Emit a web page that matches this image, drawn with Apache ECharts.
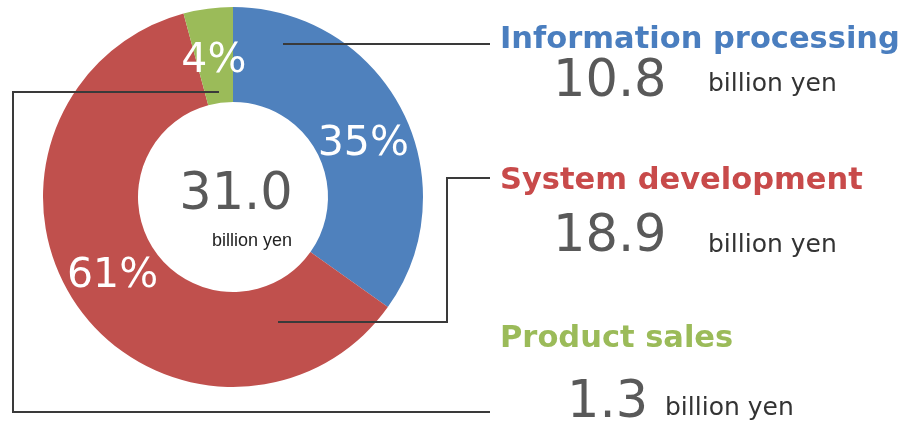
<!DOCTYPE html>
<html>
<head>
<meta charset="utf-8">
<script src="https://cdn.jsdelivr.net/npm/echarts@6/dist/echarts.min.js"></script>
<style>
html,body{margin:0;padding:0;background:#fff;}
#chart{width:904px;height:425px;}
</style>
</head>
<body>
<div id="chart"></div>
<script>
const categories = ['Information processing', 'System development', 'Product sales'];
const values = [10.8, 18.9, 1.3];
const unitLabel = 'billion yen';

const colors = ['#4f81bd', '#c0504d', '#9bbb59'];
const titleColors = ['#4a7ebf', '#c84a4a', '#9bbb59'];
const labelOffsets = [[1, 14], [-1, -4], [0, 9]];
const total = values.reduce((a, b) => a + b, 0).toFixed(1);

const chart = echarts.init(document.getElementById('chart'), null, {renderer: 'canvas'});

const headFont = 'bold 30.5px "DejaVu Sans", sans-serif';
const numFont = '51px "DejaVu Sans", sans-serif';
const unitFont = '25px "DejaVu Sans", sans-serif';

function txt(text, x, y, font, fill, align) {
  return {type: 'text', silent: true, z: 100, style: {text: text, x: x, y: y, font: font, fill: fill,
    align: align || 'left', verticalAlign: 'middle', textAlign: align || 'left', textVerticalAlign: 'middle'}};
}
function line(points) {
  return {type: 'polyline', silent: true, z: 100, shape: {points: points},
    style: {stroke: '#3a3a3a', lineWidth: 2, fill: null}};
}

const rows = [
  {head: 40, num: 83, unit: 84, numX: 553, unitX: 708},
  {head: 181, num: 238, unit: 245, numX: 553, unitX: 708},
  {head: 339, num: 404, unit: 408, numX: 567, unitX: 665}
];

const graphics = [
  line([[283, 44], [490, 44]]),
  line([[278, 322], [447, 322], [447, 178], [490, 178]]),
  line([[219, 92], [13, 92], [13, 412], [490, 412]]),
  txt(total, 236, 196, numFont, '#595959', 'center'),
  txt(unitLabel, 252, 241, '18px "Liberation Sans", Arial, sans-serif', '#222', 'center')
];
categories.forEach((c, i) => {
  const r = rows[i];
  graphics.push(txt(c, 500, r.head, headFont, titleColors[i]));
  graphics.push(txt(values[i].toFixed(1), r.numX, r.num, numFont, '#595959'));
  graphics.push(txt(unitLabel, r.unitX, r.unit, unitFont, '#333'));
});

chart.setOption({
  animation: false,
  backgroundColor: '#fff',
  series: [{
    type: 'pie',
    center: [233, 197],
    radius: [95, 190],
    startAngle: 90,
    clockwise: true,
    percentPrecision: 0,
    silent: true,
    z: 1,
    data: categories.map((c, i) => ({
      name: c, value: values[i],
      itemStyle: {color: colors[i]},
      label: {offset: labelOffsets[i]}
    })),
    label: {
      show: true,
      position: 'inside',
      formatter: '{d}%',
      color: '#fff',
      fontSize: 41,
      fontFamily: '"DejaVu Sans", sans-serif',
      textBorderWidth: 0
    },
    labelLine: {show: false},
    emphasis: {disabled: true}
  }],
  graphic: graphics
});
</script>
</body>
</html>
